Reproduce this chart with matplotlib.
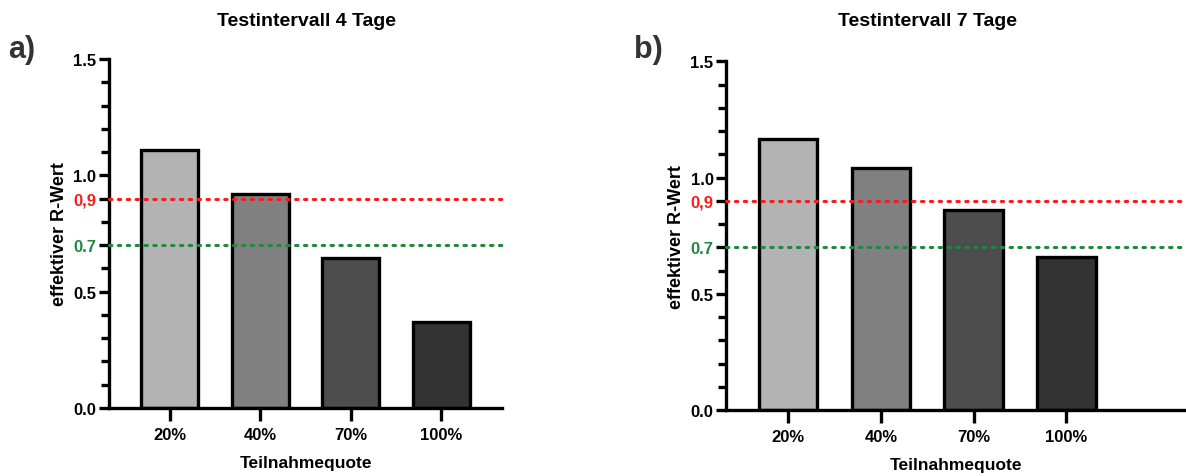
import matplotlib
matplotlib.use("Agg")
import matplotlib.pyplot as plt

categories = ["20%", "40%", "70%", "100%"]
r_4_tage = [1.11, 0.92, 0.645, 0.37]
r_7_tage = [1.165, 1.04, 0.86, 0.66]
bar_colors = ["#b3b3b3", "#808080", "#4d4d4d", "#333333"]
titles = ["Testintervall 4 Tage", "Testintervall 7 Tage"]
panel_labels = ["a)", "b)"]
threshold_red = 0.9
threshold_green = 0.7

plt.rcParams['font.family'] = ['Liberation Sans', 'DejaVu Sans']
plt.rcParams['font.weight'] = 'bold'

fig = plt.figure(figsize=(11.86, 4.77), dpi=100)
W, H = 1186, 477

def make_ax(left_px, right_px, top_px, bottom_px):
    return fig.add_axes([left_px / W, (H - bottom_px) / H,
                         (right_px - left_px) / W, (bottom_px - top_px) / H])

axes = [make_ax(109, 502, 60, 409), make_ax(726, 1186, 62.3, 411)]
xlims = [(-0.67, 3.67), (-0.67, 4.29)]
datas = [r_4_tage, r_7_tage]
title_x = [306, 928]
label_pos = [(8, 50), (634, 50)]

for i, ax in enumerate(axes):
    x = range(len(categories))
    ax.bar(x, datas[i], width=0.63, color=bar_colors, edgecolor="black",
           linewidth=2.4, zorder=2)
    ax.axhline(threshold_red, color="#ff1a1a", linestyle=(0, (0.8, 2.1)),
               linewidth=2.2, zorder=3, clip_on=False, dash_capstyle="round")
    ax.axhline(threshold_green, color="#1e8a3c", linestyle=(0, (0.8, 2.1)),
               linewidth=2.2, zorder=3, clip_on=False, dash_capstyle="round")
    ax.set_xlim(*xlims[i])
    ax.set_ylim(0, 1.5)
    ax.set_xticks(list(x))
    ax.set_xticklabels(categories, fontsize=12, fontweight="bold")
    ax.set_yticks([0.0, 0.5, 0.7, 0.9, 1.0, 1.5])
    ax.set_yticklabels(["0.0", "0.5", "0.7", "0,9", "1.0", "1.5"],
                       fontsize=12, fontweight="bold")
    ax.set_yticks([0.1, 0.2, 0.3, 0.4, 0.6, 0.8, 1.1, 1.2, 1.3, 1.4], minor=True)
    for lbl in ax.get_yticklabels():
        if lbl.get_text() == "0,9":
            lbl.set_color("#ff1a1a")
        elif lbl.get_text() == "0.7":
            lbl.set_color("#1e8a3c")
    for s in ["top", "right"]:
        ax.spines[s].set_visible(False)
    for s in ["left", "bottom"]:
        ax.spines[s].set_linewidth(2.4)
    ax.tick_params(axis="y", which="major", length=7, width=2.4, pad=2)
    ax.tick_params(axis="y", which="minor", length=6, width=2.4)
    ax.tick_params(axis="x", which="major", length=9, width=2.4, pad=5)
    ax.set_xlabel("Teilnahmequote", fontsize=12.5, fontweight="bold", labelpad=9)
    ax.set_ylabel("effektiver R-Wert", fontsize=13, fontweight="bold", labelpad=4)
    fig.text(title_x[i] / W, 1 - 21 / H, titles[i],
             ha="center", va="center", fontsize=14, fontweight="bold")
    fig.text(label_pos[i][0] / W, 1 - label_pos[i][1] / H, panel_labels[i],
             ha="left", va="center", fontsize=22, fontweight="bold", color="#333333")

fig.savefig("out.png", dpi=100)
